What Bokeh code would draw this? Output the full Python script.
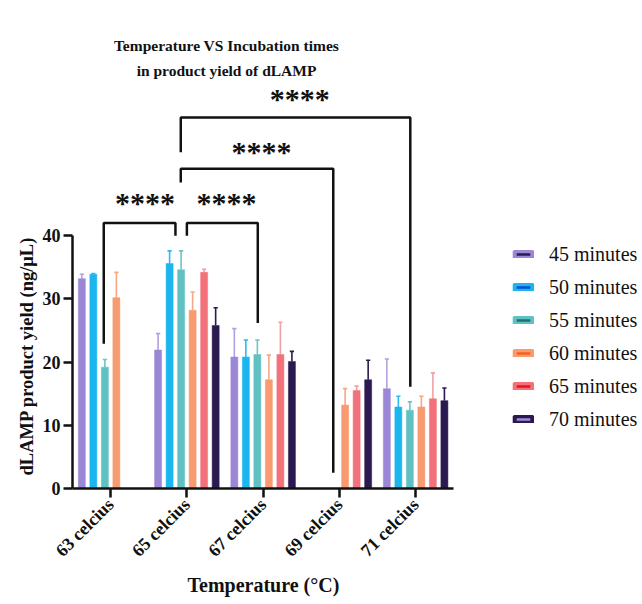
import math
from bokeh.plotting import figure
from bokeh.models import ColumnDataSource, FixedTicker, Legend, LegendItem, Range1d, Title
from bokeh.core.properties import value
from bokeh.embed import file_html
from bokeh.resources import INLINE

nan = float("nan")

# ---------------- data ----------------
temperatures = ["63 celcius", "65 celcius", "67 celcius", "69 celcius", "71 celcius"]
times = ["45 minutes", "50 minutes", "55 minutes", "60 minutes", "65 minutes", "70 minutes"]

mean_45 = [33.2, 21.9, 20.8, nan, 15.8]
mean_50 = [33.9, 35.6, 20.8, nan, 12.9]
mean_55 = [19.2, 34.6, 21.2, nan, 12.4]
mean_60 = [30.2, 28.2, 17.2, 13.2, 12.9]
mean_65 = [nan, 34.2, 21.2, 15.5, 14.2]
mean_70 = [nan, 25.8, 20.1, 17.2, 13.9]

err_45 = [0.7, 2.6, 4.5, nan, 4.7]
err_50 = [0.1, 2.0, 2.7, nan, 1.7]
err_55 = [1.2, 3.0, 2.3, nan, 1.3]
err_60 = [4.0, 2.9, 3.9, 2.6, 1.7]
err_65 = [nan, 0.5, 5.1, 0.7, 4.1]
err_70 = [nan, 2.8, 1.6, 3.1, 2.0]

y_ticks = [0, 10, 20, 30, 40]

# significance brackets (data units)
br_x_left = [-0.09, 1.0, 0.92, 0.92]
br_x_right = [0.85, 1.93, 2.92, 3.93]
br_y_left = [22.9, 40.0, 48.4, 53.2]
br_y_right = [40.0, 26.2, 2.5, 16.1]
br_y_top = [42.0, 42.0, 50.6, 58.7]
br_label = ["****", "****", "****", "****"]
br_label_x = [0.45, 1.52, 1.98, 2.48]
br_label_y = [45.2, 45.2, 53.3, 61.7]

title_lines = ["Temperature VS Incubation times", "in product yield of dLAMP"]
x_title = "Temperature (°C)"
y_title = "dLAMP product yield (ng/μL)"

means = [mean_45, mean_50, mean_55, mean_60, mean_65, mean_70]
errs = [err_45, err_50, err_55, err_60, err_65, err_70]

fill_colors = ["#9c86d6", "#1cb6ef", "#60c1c3", "#f89b70", "#f2717a", "#2b1a4f"]
err_colors = ["#b3a0de", "#2bbcef", "#6cc6c8", "#f7a882", "#f3a0a4", "#2b1a4f"]
inner_colors = ["#2b1a4f", "#1546d6", "#216e72", "#f2621e", "#e8141c", "#a08cd8"]

FONT = "Liberation Serif"
TXT = "#111111"
W, H = 642, 604
LEFT, BOTTOM_PX = 72, 116
px_per_unit_x = 76.25
px_per_unit_y = 6.32
x0 = -0.5
frame_w = W - LEFT
frame_h = H - BOTTOM_PX
x1 = x0 + frame_w / px_per_unit_x
y1 = frame_h / px_per_unit_y

p = figure(width=W, height=H, output_backend="svg", toolbar_location=None,
           x_range=Range1d(x0, x1), y_range=Range1d(0, y1),
           min_border_left=LEFT, min_border_bottom=BOTTOM_PX,
           min_border_right=0, min_border_top=0)
p.outline_line_color = None
p.grid.grid_line_color = None
p.background_fill_color = "white"

pitch = 0.151
bar_w = 0.092
cap = 0.028

legend_items = []
for j, (m, e) in enumerate(zip(means, errs)):
    xs, tops, caps_y = [], [], []
    for i in range(len(temperatures)):
        if not math.isnan(m[i]):
            xs.append(i + (j - 2.5) * pitch)
            tops.append(m[i])
            caps_y.append(m[i] + e[i])
    src = ColumnDataSource(dict(x=xs, top=tops, cy=caps_y,
                                xl=[x - cap for x in xs], xr=[x + cap for x in xs]))
    p.segment(x0="x", y0="top", x1="x", y1="cy", source=src,
              line_color=err_colors[j], line_width=1.6)
    p.segment(x0="xl", y0="cy", x1="xr", y1="cy", source=src,
              line_color=err_colors[j], line_width=1.6)
    p.vbar(x="x", top="top", width=bar_w, bottom=0, source=src,
           fill_color=fill_colors[j], line_color=fill_colors[j], line_width=0.5)
    dummy = p.vbar(x=[nan], top=[nan], width=bar_w, fill_color=inner_colors[j],
                   line_color=fill_colors[j], line_width=4)
    legend_items.append(LegendItem(label=times[j], renderers=[dummy], index=0))

# brackets
bx, by = [], []
for k in range(len(br_label)):
    bx.append([br_x_left[k], br_x_left[k], br_x_right[k], br_x_right[k]])
    by.append([br_y_left[k], br_y_top[k], br_y_top[k], br_y_right[k]])
p.multi_line(xs=bx, ys=by, line_color=TXT, line_width=2.5)
p.text(x=br_label_x, y=br_label_y, text=br_label,
       text_font=value(FONT), text_font_style="bold", text_font_size="30px",
       text_align="center", text_baseline="middle", text_color=TXT)

# chart title as text
p.text(x=[1.52, 1.52], y=[70.1, 66.1], text=title_lines,
       text_font=value(FONT), text_font_style="bold", text_font_size="15.5px",
       text_align="center", text_baseline="middle", text_color=TXT)

# axes
for ax in (p.xaxis[0], p.yaxis[0]):
    ax.axis_line_width = 2.5
    ax.axis_line_color = TXT
    ax.major_tick_line_width = 2.5
    ax.major_tick_line_color = TXT
    ax.major_tick_out = 9
    ax.major_tick_in = 0
    ax.minor_tick_line_color = None
    ax.major_label_text_font = FONT
    ax.major_label_text_font_style = "bold"
    ax.major_label_text_font_size = "18px"
    ax.major_label_text_color = TXT

p.yaxis.ticker = FixedTicker(ticks=y_ticks)
p.yaxis.bounds = (0, 40)
p.yaxis.major_label_standoff = 3

p.xaxis.ticker = FixedTicker(ticks=list(range(len(temperatures))))
p.xaxis.major_label_overrides = {i: t for i, t in enumerate(temperatures)}
p.xaxis.major_label_orientation = math.pi / 4
p.xaxis.bounds = (x0, x0 + 381 / px_per_unit_x)
p.xaxis.major_label_standoff = 4

# axis titles (positioned relative to the axis extent, not the frame)
p.add_layout(Title(text=y_title, align="left", offset=13, vertical_align="middle",
                   text_font=FONT, text_font_style="bold", text_font_size="18.5px",
                   text_color=TXT, standoff=4), "left")
p.add_layout(Title(text=x_title, align="left", offset=115, vertical_align="middle",
                   text_font=FONT, text_font_style="bold", text_font_size="20px",
                   text_color=TXT, standoff=4), "below")

legend = Legend(items=legend_items, location=(440, 57.5),
                glyph_width=22, glyph_height=8, label_height=22, spacing=10,
                label_standoff=15, padding=0, margin=0,
                border_line_color=None, background_fill_alpha=0,
                label_text_font=FONT, label_text_font_size="20px",
                label_text_color=TXT)
p.add_layout(legend)

open("out.html", "w").write(file_html(p, INLINE))
